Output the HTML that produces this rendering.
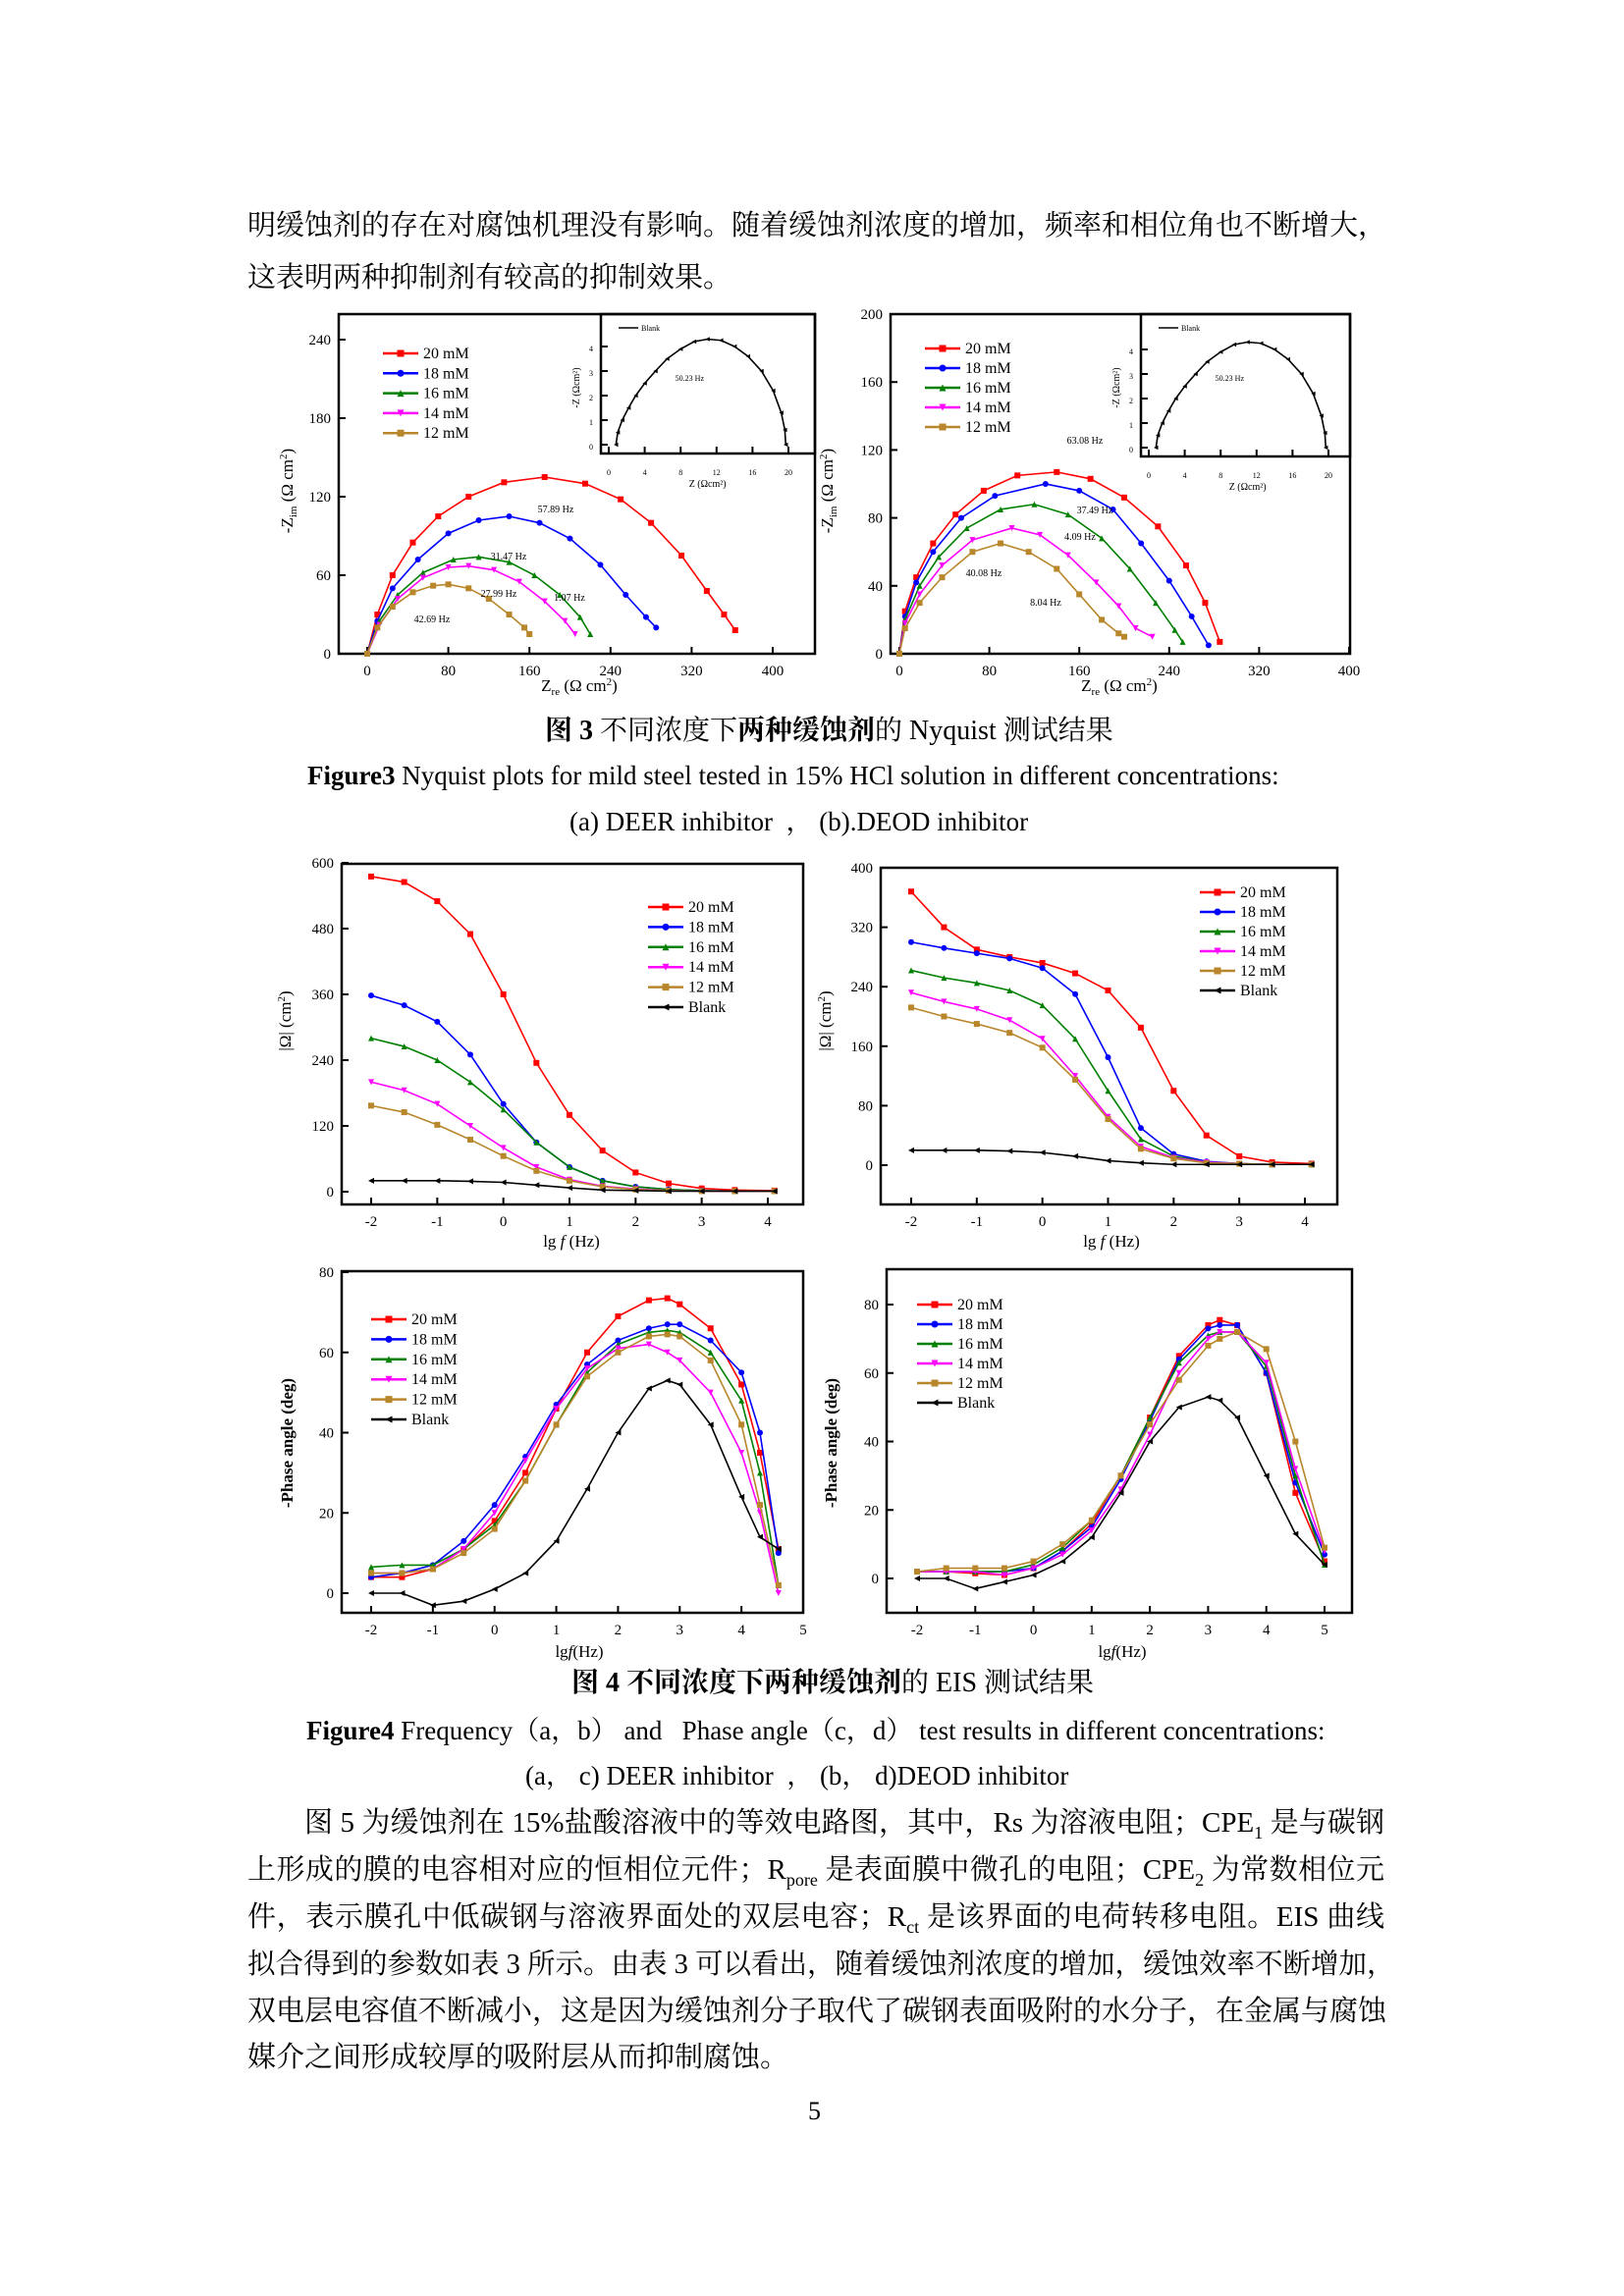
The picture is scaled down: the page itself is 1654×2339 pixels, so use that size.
<!DOCTYPE html>
<html><head><meta charset="utf-8">
<style>
body{margin:0;background:#fff;}
#page{position:relative;width:1654px;height:2339px;overflow:hidden;font-family:"Liberation Serif","Noto Serif CJK SC","Noto Sans CJK SC",serif;color:#000;}
.t{position:absolute;white-space:nowrap;font-size:29px;}
.j{position:absolute;left:252px;width:1158px;font-size:29px;text-align:justify;text-align-last:justify;white-space:nowrap;}
svg{position:absolute;left:0;top:0;}
</style></head><body>
<div id="page">
<div class="j" style="top:207px">明缓蚀剂的存在对腐蚀机理没有影响。随着缓蚀剂浓度的增加，频率和相位角也不断增大，</div>
<div class="t" style="left:252px;top:260px">这表明两种抑制剂有较高的抑制效果。</div>

<div class="t" style="left:555px;top:722px;font-size:28px"><b>图 3</b> 不同浓度下<b>两种缓蚀剂</b>的 Nyquist 测试结果</div>
<div class="t" style="left:313px;top:775px;font-size:27px"><b>Figure3</b> Nyquist plots for mild steel tested in 15% HCl solution in different concentrations:</div>
<div class="t" style="left:580px;top:815px;font-size:27px">(a) DEER inhibitor &nbsp;， (b).DEOD inhibitor</div>

<div class="t" style="left:582px;top:1692px;font-size:28px"><b>图 4 不同浓度下两种缓蚀剂</b>的 EIS 测试结果</div>
<div class="t" style="left:312px;top:1741px;font-size:27px"><b>Figure4</b> Frequency（a，b） and &nbsp; Phase angle（c，d） test results in different concentrations:</div>
<div class="t" style="left:535px;top:1787px;font-size:27px">(a， c) DEER inhibitor &nbsp;， (b， d)DEOD inhibitor</div>

<div class="j" style="top:1834px;left:310px;width:1100px">图 5 为缓蚀剂在 15%盐酸溶液中的等效电路图，其中，Rs 为溶液电阻；CPE<sub style="font-size:18px">1</sub> 是与碳钢</div>
<div class="j" style="top:1882px">上形成的膜的电容相对应的恒相位元件；R<sub style="font-size:18px">pore</sub> 是表面膜中微孔的电阻；CPE<sub style="font-size:18px">2</sub> 为常数相位元</div>
<div class="j" style="top:1930px">件，表示膜孔中低碳钢与溶液界面处的双层电容；R<sub style="font-size:18px">ct</sub> 是该界面的电荷转移电阻。EIS 曲线</div>
<div class="j" style="top:1978px;font-size:28.5px">拟合得到的参数如表 3 所示。由表 3 可以看出，随着缓蚀剂浓度的增加，缓蚀效率不断增加，</div>
<div class="j" style="top:2026px">双电层电容值不断减小，这是因为缓蚀剂分子取代了碳钢表面吸附的水分子，在金属与腐蚀</div>
<div class="t" style="left:252px;top:2073px">媒介之间形成较厚的吸附层从而抑制腐蚀。</div>
<div class="t" style="left:823px;top:2136px;font-size:26px">5</div>

<svg id="chart" width="1654" height="2339"></svg>
</div>
<script>
// ---------- data ----------
const seriesNames = ["20 mM","18 mM","16 mM","14 mM","12 mM","Blank"];
const colors = ["#ff0000","#0000ff","#008000","#ff00ff","#b8862b","#000000"];
// Nyquist (a) DEER
const nyqA_x20=[0,10,25,45,70,100,135,175,215,250,280,310,335,352,363];
const nyqA_y20=[0,30,60,85,105,120,131,135,130,118,100,75,48,30,18];
const nyqA_x18=[0,10,25,50,80,110,140,170,200,230,255,275,285];
const nyqA_y18=[0,25,50,72,92,102,105,100,88,68,45,28,20];
const nyqA_x16=[0,12,30,55,85,110,140,165,190,210,220];
const nyqA_y16=[0,25,45,62,72,74,70,60,45,28,15];
const nyqA_x14=[0,12,30,55,80,100,125,150,175,195,205];
const nyqA_y14=[0,22,42,58,66,67,64,55,40,25,15];
const nyqA_x12=[0,10,25,45,65,80,100,120,140,155,160];
const nyqA_y12=[0,20,36,47,52,53,50,42,30,20,15];
// Nyquist (b) DEOD
const nyqB_x20=[0,5,15,30,50,75,105,140,170,200,230,255,272,285];
const nyqB_y20=[0,25,45,65,82,96,105,107,103,92,75,52,30,7];
const nyqB_x18=[0,5,15,30,55,85,130,160,190,215,240,260,275];
const nyqB_y18=[0,22,42,60,80,93,100,96,85,65,43,22,5];
const nyqB_x16=[0,5,18,35,60,90,120,150,180,205,228,245,252];
const nyqB_y16=[0,20,40,57,74,85,88,82,68,50,30,14,7];
const nyqB_x14=[0,5,18,38,65,100,125,150,175,195,210,225];
const nyqB_y14=[0,18,35,52,67,74,70,58,42,28,15,10];
const nyqB_x12=[0,5,18,38,65,90,115,140,160,180,195,200];
const nyqB_y12=[0,15,30,45,60,65,60,50,35,20,12,10];
// inset blank
const blank_x=[0.8,1,1.5,2.2,3,4,5.2,6.5,8,9.5,11,12.5,14,15.5,17,18.3,19.2,19.6,19.7];
const blank_y=[0,0.5,1,1.5,2,2.5,3,3.5,3.9,4.2,4.3,4.25,4.0,3.6,3.0,2.2,1.3,0.6,0];
// |Z| vs lg f
const lgf=[-2,-1.5,-1,-0.5,0,0.5,1,1.5,2,2.5,3,3.5,4.1];
const zA20=[575,565,530,470,360,235,140,75,35,15,6,3,2];
const zA18=[358,340,310,250,160,90,45,20,9,4,2,1,1];
const zA16=[280,265,240,200,150,90,45,20,9,4,2,1,1];
const zA14=[200,185,160,120,80,45,22,10,5,2,1,1,1];
const zA12=[157,145,122,95,65,38,20,9,4,2,1,1,1];
const zABl=[20,20,20,19,17,12,7,3,2,1,1,1,1];
const zB20=[368,320,290,280,272,258,235,185,100,40,12,4,2];
const zB18=[300,292,285,278,265,230,145,50,15,5,2,1,1];
const zB16=[262,252,245,235,215,170,100,35,12,4,2,1,1];
const zB14=[232,220,210,195,170,120,65,25,10,4,2,1,1];
const zB12=[212,200,190,178,158,115,62,22,9,3,2,1,1];
const zBBl=[20,20,20,19,17,12,6,3,1,1,1,1,1];
// phase
const lgfC=[-2,-1.5,-1,-0.5,0,0.5,1,1.5,2,2.5,2.8,3,3.5,4,4.3,4.6];
const pC20=[4,4,6,11,18,30,46,60,69,73,73.5,72,66,52,35,11];
const pC18=[4,5,7,13,22,34,47,57,63,66,67,67,63,55,40,10];
const pC16=[6.5,7,7,11,17,28,42,55,62,65,65.5,65,60,48,30,2];
const pC14=[5,5,6,11,20,33,46,56,61,62,60,58,50,35,20,0];
const pC12=[5,5,6,10,16,28,42,54,60,64,64.5,64,58,42,22,2];
const pCBl=[0,0,-3,-2,1,5,13,26,40,51,53,52,42,24,14,11];
const lgfD=[-2,-1.5,-1,-0.5,0,0.5,1,1.5,2,2.5,3,3.2,3.5,4,4.5,5];
const pD20=[2,2,1.5,1,3,8,16,30,47,65,74,75.5,74,60,25,5];
const pD18=[2,2,2,2,3,8,15,29,46,64,73,74,74,60,28,7];
const pD16=[2,2,2,2,4,9,17,30,47,63,71,72,72,62,30,4];
const pD14=[2,2,2,1,3,7,14,26,42,60,70,72,72,63,32,8];
const pD12=[2,3,3,3,5,10,17,30,45,58,68,70,72,67,40,9];
const pDBl=[0,0,-3,-1,1,5,12,25,40,50,53,52,47,30,13,4];
const nyqTicks=[0,80,160,240,320,400];
const nyqAyTicks=[0,60,120,180,240];
const nyqByTicks=[0,40,80,120,160,200];

// ---------- drawing ----------
const NS="http://www.w3.org/2000/svg";
const svg=document.getElementById('chart');
function el(tag,attrs,parent){const e=document.createElementNS(NS,tag);for(const k in attrs)e.setAttribute(k,attrs[k]);(parent||svg).appendChild(e);return e;}
function txt(x,y,s,size,anchor,parent,extra){const e=el('text',Object.assign({x:x,y:y,'font-size':size,'text-anchor':anchor||'middle','font-family':'Liberation Serif, serif'},extra||{}),parent);e.textContent=s;return e;}
function marker(g,x,y,i,r){
  const c=colors[i];
  if(i===0||i===4) return el('rect',{x:x-r,y:y-r,width:2*r,height:2*r,fill:c},g);
  if(i===1) return el('circle',{cx:x,cy:y,r:r,fill:c},g);
  if(i===2) return el('polygon',{points:`${x},${y-r} ${x+r},${y+r} ${x-r},${y+r}`,fill:c},g);
  if(i===3) return el('polygon',{points:`${x-r},${y-r} ${x+r},${y-r} ${x},${y+r}`,fill:c},g);
  return el('polygon',{points:`${x-r},${y} ${x+r},${y-r} ${x+r},${y+r}`,fill:c},g);
}
function makeAxes(name,frame,xd,yd){
  const g=el('g',{});
  
  
  const sx=v=>xd.p0+(v-xd.v0)*(xd.p1-xd.p0)/(xd.v1-xd.v0);
  const sy=v=>yd.p0+(v-yd.v0)*(yd.p1-yd.p0)/(yd.v1-yd.v0);
  const f=el('rect',{x:frame[0],y:frame[1],width:frame[2]-frame[0],height:frame[3]-frame[1],fill:'none',stroke:'#000','stroke-width':2.5},g);
  
  
  xd.ticks.forEach(t=>{const x=sx(t);el('line',{x1:x,y1:frame[3],x2:x,y2:frame[3]-7,stroke:'#000','stroke-width':2},g);
    const l=txt(x,frame[3]+22,String(t),xd.fs||15,'middle',g);
    
    });
  yd.ticks.forEach(t=>{const y=sy(t);el('line',{x1:frame[0],y1:y,x2:frame[0]+7,y2:y,stroke:'#000','stroke-width':2},g);
    const l=txt(frame[0]-8,y+5,String(t),yd.fs||15,'end',g);
    
    });
  return {g,sx,sy};
}
function series(ax,xs,ys,i,r,name){
  const g=el('g',{},ax.g);
  
  
  const pts=xs.map((x,k)=>ax.sx(x)+','+ax.sy(ys[k])).join(' ');
  el('polyline',{points:pts,fill:'none',stroke:colors[i],'stroke-width':1.6},g);
  xs.forEach((x,k)=>{const m=marker(g,ax.sx(x),ax.sy(ys[k]),i,r||3.2);
    
    });
}
function legend(ax,x,y0,step,idx,fs){
  const g=el('g',{},ax.g);
  
  
  idx.forEach((i,k)=>{const y=y0+k*step;
    const e=el('g',{},g);
    
    
    el('line',{x1:x,y1:y,x2:x+36,y2:y,stroke:colors[i],'stroke-width':2.5},e);
    marker(e,x+18,y,i,3.5);
    txt(x+41,y+5,seriesNames[i],fs||16,'start',e);});
}
function ylabel(x,y,s,parent,bold){const e=txt(x,y,'',17,'middle',parent,{transform:`rotate(-90 ${x} ${y})`,'font-weight':bold?'bold':'normal'});e.innerHTML=s;}
function xlabel(x,y,s,parent){const e=txt(x,y,'',17,'middle',parent);e.innerHTML=s;}

// Nyquist a
let A=makeAxes('nyquist-chart-a',[345,320,830,666],{v0:0,v1:400,p0:374,p1:787,ticks:nyqTicks},{v0:0,v1:240,p0:666,p1:346,ticks:nyqAyTicks});
[[nyqA_x20,nyqA_y20],[nyqA_x18,nyqA_y18],[nyqA_x16,nyqA_y16],[nyqA_x14,nyqA_y14],[nyqA_x12,nyqA_y12]].forEach((d,i)=>series(A,d[0],d[1],i,3,'series-'+seriesNames[i].replace(' ','').toLowerCase()));
legend(A,390,360,20.3,[0,1,2,3,4]);
ylabel(298,500,'-Z<tspan font-size="11" dy="4">im</tspan><tspan dy="-4"> (Ω cm</tspan><tspan font-size="11" dy="-6">2</tspan><tspan dy="6">)</tspan>',A.g);
xlabel(590,704,'Z<tspan font-size="11" dy="4">re</tspan><tspan dy="-4"> (Ω cm</tspan><tspan font-size="11" dy="-6">2</tspan><tspan dy="6">)</tspan>',A.g);
[[566,522,'57.89 Hz'],[518,570,'31.47 Hz'],[508,608,'27.99 Hz'],[580,612,'1.07 Hz'],[440,634,'42.69 Hz']].forEach(a=>{txt(a[0],a[1],a[2],10,'middle',A.g);});
// Nyquist b
let B=makeAxes('nyquist-chart-b',[907,320,1375,666],{v0:0,v1:400,p0:916,p1:1374,ticks:nyqTicks},{v0:0,v1:200,p0:666,p1:320,ticks:nyqByTicks});
[[nyqB_x20,nyqB_y20],[nyqB_x18,nyqB_y18],[nyqB_x16,nyqB_y16],[nyqB_x14,nyqB_y14],[nyqB_x12,nyqB_y12]].forEach((d,i)=>series(B,d[0],d[1],i,3,'series-'+seriesNames[i].replace(' ','').toLowerCase()));
legend(B,942,355,20,[0,1,2,3,4]);
ylabel(848,500,'-Z<tspan font-size="11" dy="4">im</tspan><tspan dy="-4"> (Ω cm</tspan><tspan font-size="11" dy="-6">2</tspan><tspan dy="6">)</tspan>',B.g);
xlabel(1140,704,'Z<tspan font-size="11" dy="4">re</tspan><tspan dy="-4"> (Ω cm</tspan><tspan font-size="11" dy="-6">2</tspan><tspan dy="6">)</tspan>',B.g);
[[1105,452,'63.08 Hz'],[1115,523,'37.49 Hz'],[1100,550,'4.09 Hz'],[1002,587,'40.08 Hz'],[1065,617,'8.04 Hz']].forEach(a=>txt(a[0],a[1],a[2],10,'middle',B.g));
// insets
function inset(name,fr,x0p){
  const I=makeAxes(name,fr,{v0:0,v1:20,p0:x0p,p1:x0p+183,ticks:[0,4,8,12,16,20],fs:8},{v0:0,v1:4,p0:fr[3]-9,p1:fr[3]-109,ticks:[0,1,2,3,4],fs:8});
  series(I,blank_x,blank_y,5,2.2,'series-blank');
  el('line',{x1:x0p+10,y1:fr[1]+14,x2:x0p+30,y2:fr[1]+14,stroke:'#000','stroke-width':1.5},I.g);
  txt(x0p+33,fr[1]+17,'Blank',8,'start',I.g);
  txt(I.sx(9),fr[1]+68,'50.23 Hz',8,'middle',I.g);
  txt(I.sx(11),fr[3]+34,'Z (Ωcm²)',10,'middle',I.g);
  txt(0,0,'-Z (Ωcm²)',10,'middle',I.g,{transform:`translate(${fr[0]-22},${fr[1]+75}) rotate(-90)`});
}
inset('inset-blank-a',[612,320,830,462],620);
inset('inset-blank-b',[1162,320,1375,465],1170);
// |Z| a
let C=makeAxes('impedance-chart-a',[348,880,818,1227],{v0:-2,v1:4,p0:378,p1:782,ticks:[-2,-1,0,1,2,3,4]},{v0:0,v1:600,p0:1214,p1:879,ticks:[0,120,240,360,480,600]});
[zA20,zA18,zA16,zA14,zA12,zABl].forEach((d,i)=>series(C,lgf,d,i,3,'series-'+seriesNames[i].replace(' ','').toLowerCase()));
legend(C,660,924,20.4,[0,1,2,3,4,5]);
ylabel(296,1040,'|Ω| (cm<tspan font-size="11" dy="-6">2</tspan><tspan dy="6">)</tspan>',C.g);
xlabel(582,1270,'lg <tspan font-style="italic">f</tspan> (Hz)',C.g);
// |Z| b
let D=makeAxes('impedance-chart-b',[897,884,1362,1227],{v0:-2,v1:4,p0:928,p1:1329,ticks:[-2,-1,0,1,2,3,4]},{v0:0,v1:400,p0:1187,p1:884,ticks:[0,80,160,240,320,400]});
[zB20,zB18,zB16,zB14,zB12,zBBl].forEach((d,i)=>series(D,lgf,d,i,3,'series-'+seriesNames[i].replace(' ','').toLowerCase()));
legend(D,1222,909,20,[0,1,2,3,4,5]);
ylabel(846,1040,'|Ω| (cm<tspan font-size="11" dy="-6">2</tspan><tspan dy="6">)</tspan>',D.g);
xlabel(1132,1270,'lg <tspan font-style="italic">f</tspan> (Hz)',D.g);
// phase c
let E=makeAxes('phase-chart-c',[348,1295,818,1643],{v0:-2,v1:5,p0:378,p1:818,ticks:[-2,-1,0,1,2,3,4,5]},{v0:0,v1:80,p0:1623,p1:1296,ticks:[0,20,40,60,80]});
[pC20,pC18,pC16,pC14,pC12,pCBl].forEach((d,i)=>series(E,lgfC,d,i,3,'series-'+seriesNames[i].replace(' ','').toLowerCase()));
legend(E,378,1344,20.4,[0,1,2,3,4,5]);
ylabel(298,1470,'-Phase angle (deg)',E.g,true);
xlabel(590,1688,'lg<tspan font-style="italic">f</tspan>(Hz)',E.g);
// phase d
let F=makeAxes('phase-chart-d',[903,1293,1377,1643],{v0:-2,v1:5,p0:934,p1:1349,ticks:[-2,-1,0,1,2,3,4,5]},{v0:0,v1:80,p0:1608,p1:1329,ticks:[0,20,40,60,80]});
[pD20,pD18,pD16,pD14,pD12,pDBl].forEach((d,i)=>series(F,lgfD,d,i,3,'series-'+seriesNames[i].replace(' ','').toLowerCase()));
legend(F,934,1329,20,[0,1,2,3,4,5]);
ylabel(852,1470,'-Phase angle (deg)',F.g,true);
xlabel(1143,1688,'lg<tspan font-style="italic">f</tspan>(Hz)',F.g);
</script>
</body></html>
